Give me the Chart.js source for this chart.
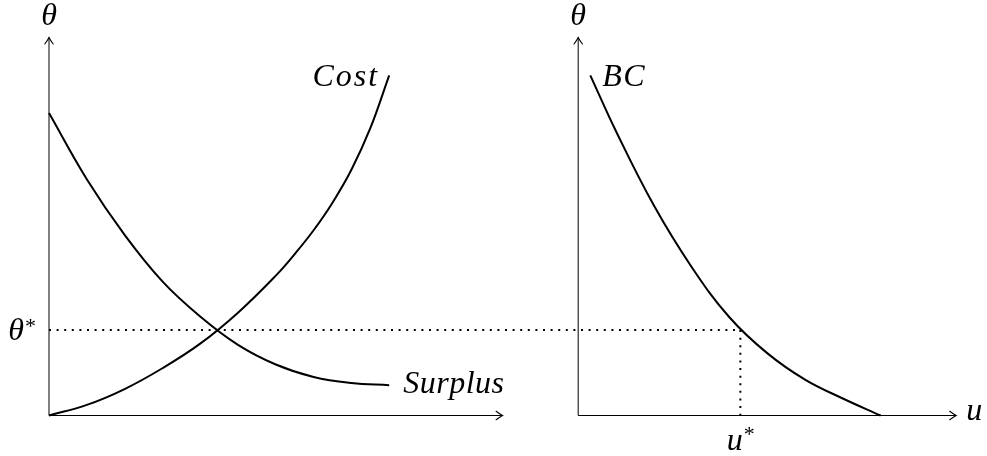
<!DOCTYPE html>
<html>
<head>
<meta charset="utf-8">
<script src="https://cdn.jsdelivr.net/npm/chart.js@4/dist/chart.umd.min.js"></script>
<style>
  html, body { margin: 0; padding: 0; background: #ffffff; }
  #wrap { width: 987px; height: 456px; }
</style>
</head>
<body>
<div id="wrap"><canvas id="c" width="987" height="456"></canvas></div>
<script>
// ---- Left panel: matching cost and surplus as functions of u ----
const costU        = [0, 1, 2, 3, 4, 5, 6, 6.5, 7, 7.5, 8, 8.5, 9];
const costTheta    = [0, 0.28, 0.70, 1.25, 1.90, 2.72, 3.70, 4.27, 4.90, 5.63, 6.50, 7.60, 9.00];

const surplusU     = [0, 1, 2, 3, 4, 5, 6, 7, 8, 9];
const surplusTheta = [8.00, 6.25, 4.78, 3.55, 2.62, 1.87, 1.35, 1.02, 0.86, 0.80];

// ---- Right panel: curve BC in (u, theta) ----
const bcU          = [0.32, 1, 2, 3, 4, 5, 6, 7, 8];
const bcTheta      = [9.00, 7.52, 5.56, 3.93, 2.60, 1.65, 0.95, 0.45, 0.00];

// Equilibrium values
const thetaStar = 2.26;
const uStar = 4.29;

// Axis extents of the two panels
const leftAxisLength  = 12;
const rightAxisLength = 10;
const thetaAxisLength = 10;
const rightPanelOrigin = 14;   // u = 0 of the right panel on the shared x scale

// Labels
const labels = {
  theta: 'θ',
  cost: 'Cost',
  surplus: 'Surplus',
  bc: 'BC',
  u: 'u',
  star: '*'
};

const pts = (xs, ys, dx = 0) => xs.map((x, i) => ({ x: x + dx, y: ys[i] }));

const curveStyle = {
  borderColor: '#000', borderWidth: 2, pointRadius: 0,
  tension: 0.4, fill: false
};
const axisStyle = { borderColor: '#000', borderWidth: 1, pointRadius: 0, tension: 0, fill: false };
const dotStyle  = { borderColor: '#000', borderWidth: 2, pointRadius: 0, tension: 0, fill: false,
                    borderDash: [2, 5.6] };

const datasets = [
  // axes
  Object.assign({ data: [{ x: 0, y: 0 }, { x: leftAxisLength, y: 0 }] }, axisStyle),
  Object.assign({ data: [{ x: 0, y: 0 }, { x: 0, y: thetaAxisLength }] }, axisStyle),
  Object.assign({ data: [{ x: rightPanelOrigin, y: 0 }, { x: rightPanelOrigin + rightAxisLength, y: 0 }] }, axisStyle),
  Object.assign({ data: [{ x: rightPanelOrigin, y: 0 }, { x: rightPanelOrigin, y: thetaAxisLength }] }, axisStyle),
  // equilibrium guides
  Object.assign({ data: [{ x: 0, y: thetaStar }, { x: rightPanelOrigin + uStar, y: thetaStar }] }, dotStyle),
  Object.assign({ data: [{ x: rightPanelOrigin + uStar, y: thetaStar }, { x: rightPanelOrigin + uStar, y: 0 }] }, dotStyle),
  // curves
  Object.assign({ label: labels.cost, data: pts(costU, costTheta) }, curveStyle),
  Object.assign({ label: labels.surplus, data: pts(surplusU, surplusTheta) }, curveStyle),
  Object.assign({ label: labels.bc, data: pts(bcU, bcTheta, rightPanelOrigin) }, curveStyle)
];

// Arrow heads and text labels, placed through the chart's scales
const annotate = {
  id: 'annotate',
  afterDatasetsDraw(chart) {
    const ctx = chart.ctx;
    const xs = chart.scales.x, ys = chart.scales.y;
    const X = v => xs.getPixelForValue(v);
    const Y = v => ys.getPixelForValue(v);

    function arrow(tx, ty, dir) {
      // TikZ-like "to" arrow tip
      ctx.save();
      ctx.translate(tx, ty);
      ctx.rotate(dir);
      ctx.beginPath();
      ctx.moveTo(-6.5, -4.2);
      ctx.quadraticCurveTo(-2.5, -1.2, 0, 0);
      ctx.quadraticCurveTo(-2.5, 1.2, -6.5, 4.2);
      ctx.lineWidth = 1.1;
      ctx.strokeStyle = '#000';
      ctx.lineCap = 'round';
      ctx.stroke();
      ctx.restore();
    }
    arrow(X(leftAxisLength), Y(0), 0);
    arrow(X(rightPanelOrigin + rightAxisLength), Y(0), 0);
    arrow(X(0), Y(thetaAxisLength), -Math.PI / 2);
    arrow(X(rightPanelOrigin), Y(thetaAxisLength), -Math.PI / 2);

    ctx.save();
    ctx.fillStyle = '#000';
    const font = 'italic 32px "Liberation Serif", "DejaVu Serif", serif';
    const small = '22px "Liberation Serif", "DejaVu Serif", serif';
    ctx.font = font;
    ctx.textBaseline = 'middle';

    // axis titles
    ctx.textAlign = 'center';
    ctx.fillText(labels.theta, X(0), Y(thetaAxisLength) - 21);
    ctx.fillText(labels.theta, X(rightPanelOrigin), Y(thetaAxisLength) - 21);

    // curve names
    const costEnd = { x: X(costU[costU.length - 1]), y: Y(costTheta[costTheta.length - 1]) };
    ctx.textAlign = 'right';
    ctx.letterSpacing = '2px';
    ctx.fillText(labels.cost, costEnd.x - 10, costEnd.y + 2);

    const surEnd = { x: X(surplusU[surplusU.length - 1]), y: Y(surplusTheta[surplusTheta.length - 1]) };
    ctx.textAlign = 'left';
    ctx.letterSpacing = '0.5px';
    ctx.fillText(labels.surplus, surEnd.x + 14, surEnd.y - 1);

    const bcStart = { x: X(rightPanelOrigin + bcU[0]), y: Y(bcTheta[0]) };
    ctx.letterSpacing = '1.5px';
    ctx.fillText(labels.bc, bcStart.x + 12, bcStart.y + 2);
    ctx.letterSpacing = '0px';

    // u axis title
    ctx.fillText(labels.u, X(rightPanelOrigin + rightAxisLength) + 10, Y(0) - 4);

    // theta* on the left axis
    ctx.font = font;
    ctx.textAlign = 'left';
    const tW = ctx.measureText(labels.theta).width;
    ctx.font = small;
    const sW = ctx.measureText(labels.star).width;
    const tx = X(0) - 14 - tW - sW;
    ctx.font = font;
    ctx.fillText(labels.theta, tx, Y(thetaStar) + 2);
    ctx.font = small;
    ctx.fillText(labels.star, tx + tW + 1, Y(thetaStar) - 3);

    // u* under the right axis
    ctx.font = font;
    const uW = ctx.measureText(labels.u).width;
    ctx.font = small;
    const usW = ctx.measureText(labels.star).width;
    const ux = X(rightPanelOrigin + uStar) - (uW + usW) / 2;
    ctx.font = font;
    ctx.fillText(labels.u, ux, Y(0) + 26);
    ctx.font = small;
    ctx.fillText(labels.star, ux + uW + 1, Y(0) + 20);
    ctx.restore();
  }
};

const PX_PER_UNIT = 37.8;
new Chart(document.getElementById('c'), {
  type: 'line',
  data: { datasets },
  options: {
    responsive: false,
    animation: false,
    devicePixelRatio: 1,
    layout: { padding: 0 },
    plugins: { legend: { display: false }, tooltip: { enabled: false } },
    elements: { line: { borderCapStyle: 'butt' } },
    scales: {
      x: { type: 'linear', display: false, min: -49 / PX_PER_UNIT, max: (987 - 49) / PX_PER_UNIT },
      y: { type: 'linear', display: false, min: -(456 - 415.5) / PX_PER_UNIT, max: 415.5 / PX_PER_UNIT }
    }
  },
  plugins: [annotate]
});
</script>
</body>
</html>
